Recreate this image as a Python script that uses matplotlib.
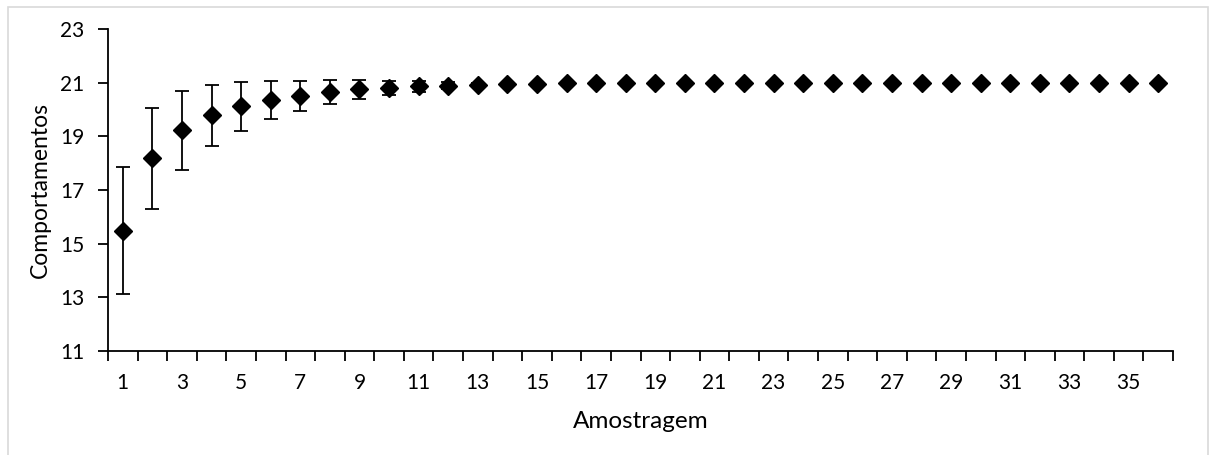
import matplotlib.pyplot as plt
from matplotlib.patches import Rectangle
import numpy as np

plt.rcParams["font.family"] = ["Lato", "DejaVu Sans"]

amostragem = list(range(1, 37))
media = [15.48, 18.18, 19.22, 19.78, 20.12, 20.35, 20.51, 20.65, 20.75, 20.81,
         20.86, 20.89, 20.93, 20.95, 20.96, 20.97, 20.98, 20.99, 20.99, 20.99,
         21.0, 21.0, 21.0, 21.0, 21.0, 21.0, 21.0, 21.0, 21.0, 21.0,
         21.0, 21.0, 21.0, 21.0, 21.0, 21.0]
desvio = [2.36, 1.87, 1.47, 1.15, 0.92, 0.72, 0.57, 0.44, 0.35, 0.27,
          0.19, 0.12, 0.07, 0.04, 0.02, 0.01, 0.0, 0.0, 0.0, 0.0,
          0.0, 0.0, 0.0, 0.0, 0.0, 0.0, 0.0, 0.0, 0.0, 0.0,
          0.0, 0.0, 0.0, 0.0, 0.0, 0.0]

fig = plt.figure(figsize=(12.1, 4.55), dpi=100)
ax = fig.add_axes([108 / 1210, 1 - 351 / 455, (1173 - 108) / 1210, (351 - 29) / 455])

ax.errorbar(amostragem, media, yerr=desvio, fmt="D", color="black",
            markersize=9, capsize=5, elinewidth=1.3, capthick=1.3)

ax.set_xlim(0.5, 36.5)
ax.set_ylim(11, 23)
ax.set_yticks(np.arange(11, 24, 2))
ax.set_xticks(range(1, 37, 2))
ax.set_xticks(np.arange(0.5, 37, 1), minor=True)
ax.tick_params(axis="x", which="major", length=0, pad=16, labelsize=15)
ax.tick_params(axis="x", which="minor", length=7, width=1.3)
ax.tick_params(axis="y", length=7, width=1.3, labelsize=15, pad=10)

for s in ["top", "right"]:
    ax.spines[s].set_visible(False)
for s in ["left", "bottom"]:
    ax.spines[s].set_linewidth(1.3)

ax.set_xlabel("Amostragem", fontsize=17.5, labelpad=13)
ax.set_ylabel("Comportamentos", fontsize=16.5, labelpad=7)

fig.patches.append(Rectangle((8 / 1210, -0.01), 1200 / 1210, 1 - 7 / 455 + 0.01,
                             transform=fig.transFigure, fill=False,
                             edgecolor="#d9d9d9", linewidth=1.2))

fig.savefig("out.png", dpi=100)
